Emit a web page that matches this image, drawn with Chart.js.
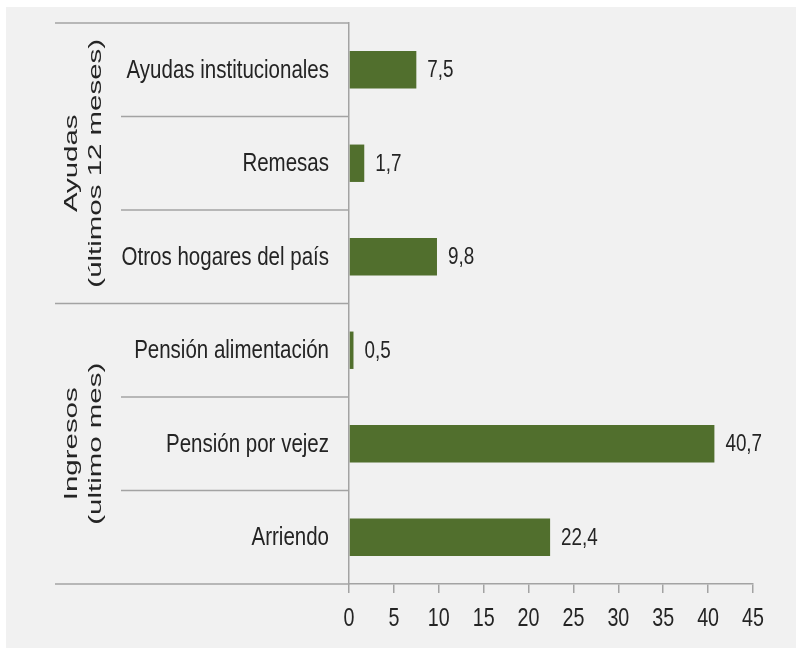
<!DOCTYPE html>
<html>
<head>
<meta charset="utf-8">
<script src="https://cdn.jsdelivr.net/npm/chart.js@4.4.1/dist/chart.umd.min.js"></script>
<style>
  html, body { margin: 0; padding: 0; background: #ffffff; }
  #wrap { width: 796px; height: 649px; position: relative; }
</style>
</head>
<body>
<div id="wrap"><canvas id="c" width="796" height="649"></canvas></div>
<script>
// ---- data ----
const categories = ['Ayudas institucionales', 'Remesas', 'Otros hogares del país',
                    'Pensión alimentación', 'Pensión por vejez', 'Arriendo'];
const values = [7.5, 1.7, 9.8, 0.5, 40.7, 22.4];
const groupLabels = [['Ayudas', '(últimos 12 meses)'], ['Ingresos', '(ultimo mes)']];
const groupSizes = [3, 3];
const xMin = 0, xMax = 45, xStep = 5;

// ---- styles ----
const BAR = '#516f2d';
const LINE = '#a3a3a3';
const TEXT = '#242424';
const FONT = "'Liberation Sans', Arial, sans-serif";
const NARROW_SCALE = 0.82;   // Arial-Narrow-like condensing

function narrowText(ctx, txt, x, y, size, align, vscale) {
  ctx.save();
  ctx.font = size + 'px ' + FONT;
  ctx.textAlign = align;
  ctx.textBaseline = 'middle';
  ctx.translate(x, y);
  ctx.scale(NARROW_SCALE, vscale || 1);
  ctx.fillText(txt, 0, 0);
  ctx.restore();
}

const bgPlugin = {
  id: 'bg',
  beforeDraw(chart) {
    const ctx = chart.ctx;
    ctx.save();
    ctx.fillStyle = '#ffffff';
    ctx.fillRect(0, 0, chart.width, chart.height);
    ctx.fillStyle = '#f1f1f1';
    ctx.fillRect(6, 7, chart.width - 6, chart.height - 8);
    ctx.restore();
  }
};

const decoPlugin = {
  id: 'deco',
  afterDraw(chart) {
    const ctx = chart.ctx;
    const y = chart.scales.y;
    const x = chart.scales.x;
    const area = chart.chartArea;
    const n = categories.length;
    // category boundaries
    const bounds = [];
    for (let i = 0; i <= n; i++) {
      if (i === 0) bounds.push(area.top);
      else if (i === n) bounds.push(area.bottom);
      else bounds.push((y.getPixelForValue(i - 1) + y.getPixelForValue(i)) / 2);
    }
    const groupBounds = [0];
    groupSizes.forEach(s => groupBounds.push(groupBounds[groupBounds.length - 1] + s));
    ctx.save();
    ctx.strokeStyle = LINE;
    ctx.lineWidth = 1.5;
    for (let i = 0; i <= n; i++) {
      const isGroup = groupBounds.includes(i);
      const x0 = isGroup ? 55 : 121;
      ctx.beginPath();
      ctx.moveTo(x0, bounds[i]);
      ctx.lineTo(area.left, bounds[i]);
      ctx.stroke();
    }
    ctx.fillStyle = TEXT;
    // category labels
    categories.forEach((c, i) => {
      narrowText(ctx, c, area.left - 20, y.getPixelForValue(i) + 1, 25, 'right', 1.04);
    });
    // x tick labels
    x.ticks.forEach(t => {
      narrowText(ctx, String(t.value), x.getPixelForValue(t.value), area.bottom + 35, 24, 'center', 1.1);
    });
    // value labels
    const meta = chart.getDatasetMeta(0);
    meta.data.forEach((bar, i) => {
      const txt = values[i].toFixed(1).replace('.', ',');
      narrowText(ctx, txt, bar.x + 11, bar.y + 1, 23, 'left', 1.04);
    });
    // rotated group labels
    ctx.font = '19px ' + FONT;
    ctx.textAlign = 'center';
    ctx.textBaseline = 'alphabetic';
    const baseX = [77, 101];
    groupLabels.forEach((lines, g) => {
      const cy = (bounds[groupBounds[g]] + bounds[groupBounds[g + 1]]) / 2;
      lines.forEach((txt, li) => {
        ctx.save();
        ctx.translate(baseX[li], cy);
        ctx.rotate(-Math.PI / 2);
        ctx.scale(1.55, 1);
        ctx.fillText(txt, 0, 0);
        ctx.restore();
      });
    });
    ctx.restore();
  }
};

new Chart(document.getElementById('c'), {
  type: 'bar',
  data: {
    labels: categories,
    datasets: [{
      data: values,
      backgroundColor: BAR,
      borderWidth: 0,
      barPercentage: 0.4,
      categoryPercentage: 1.0
    }]
  },
  options: {
    indexAxis: 'y',
    responsive: false,
    animation: false,
    devicePixelRatio: 1,
    layout: { padding: { left: 0, right: 43, top: 23, bottom: 0 } },
    plugins: { legend: { display: false }, tooltip: { enabled: false } },
    scales: {
      x: {
        min: xMin, max: xMax,
        ticks: { stepSize: xStep, display: false },
        grid: { drawOnChartArea: false, drawTicks: true, tickLength: 9, color: LINE, lineWidth: 1.5 },
        border: { display: true, color: LINE, width: 1.5 },
        afterFit(s) { s.height = 65; }
      },
      y: {
        ticks: { display: false },
        grid: { display: false },
        border: { display: true, color: LINE, width: 1.5 },
        afterFit(s) { s.width = 349; }
      }
    }
  },
  plugins: [bgPlugin, decoPlugin]
});
</script>
</body>
</html>
